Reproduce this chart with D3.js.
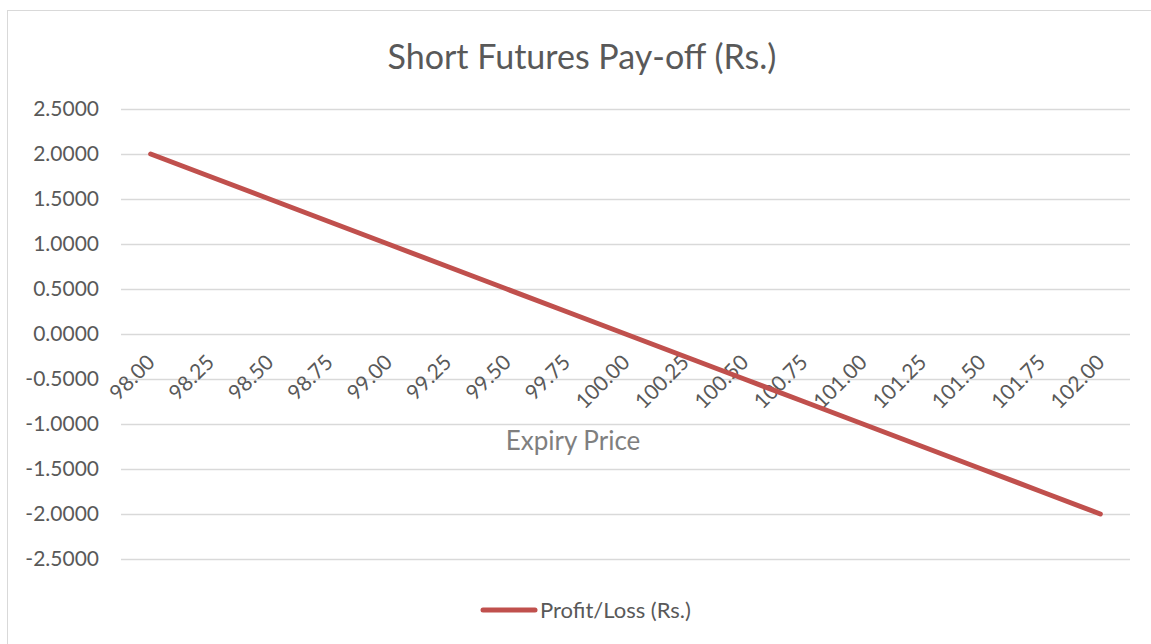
<!DOCTYPE html>
<html>
<head>
<meta charset="utf-8">
<script src="https://cdn.jsdelivr.net/npm/d3@7"></script>
<style>
  body { margin: 0; background: #fff; }
  text { font-family: Lato, "Open Sans", sans-serif; fill: #595959; }
</style>
</head>
<body>
<div id="chart"></div>
<script>
// chart data
const expiryPrices = ["98.00", "98.25", "98.50", "98.75", "99.00", "99.25", "99.50", "99.75",
  "100.00", "100.25", "100.50", "100.75", "101.00", "101.25", "101.50", "101.75", "102.00"];
const profitLoss = [2.0, 1.75, 1.5, 1.25, 1.0, 0.75, 0.5, 0.25, 0.0,
  -0.25, -0.5, -0.75, -1.0, -1.25, -1.5, -1.75, -2.0];
const yTicks = [-2.5, -2.0, -1.5, -1.0, -0.5, 0.0, 0.5, 1.0, 1.5, 2.0, 2.5];
const seriesName = "Profit/Loss (Rs.)";

const width = 1151, height = 644;
const plot = { left: 121, right: 1130, top: 109, bottom: 559 };

const svg = d3.select("#chart").append("svg")
    .attr("width", width)
    .attr("height", height);

// chart area border
svg.append("rect")
    .attr("x", 7.5).attr("y", 10.5)
    .attr("width", 1160).attr("height", 660)
    .attr("fill", "none")
    .attr("stroke", "#d9d9d9");

const x = d3.scaleBand()
    .domain(expiryPrices)
    .range([plot.left, plot.right]);

const y = d3.scaleLinear()
    .domain([-2.5, 2.5])
    .range([plot.bottom, plot.top]);

// gridlines
svg.append("g")
    .selectAll("line")
    .data(yTicks)
    .join("line")
    .attr("x1", plot.left).attr("x2", plot.right)
    .attr("y1", d => Math.round(y(d)) + 0.5)
    .attr("y2", d => Math.round(y(d)) + 0.5)
    .attr("stroke", "#d9d9d9")
    .attr("stroke-width", 1.5);

// y axis labels (plain hyphen for negatives, like Excel)
const fmt = d3.format(".4f");
const yAxis = svg.append("g")
    .attr("transform", `translate(${plot.left - 22},0)`)
    .call(d3.axisLeft(y).tickValues(yTicks)
        .tickFormat(d => fmt(d).replace("\u2212", "-"))
        .tickSize(0).tickPadding(0));
yAxis.select(".domain").remove();
yAxis.selectAll("text")
    .attr("font-size", 21)
    .attr("font-family", "Lato, sans-serif")
    .attr("fill", "#595959");

// category labels sit on the zero line, rotated
svg.append("g")
    .selectAll("text")
    .data(expiryPrices)
    .join("text")
    .attr("transform", d => `translate(${x(d) + x.bandwidth() / 2 - 5},${y(0) + 19}) rotate(-45)`)
    .attr("text-anchor", "end")
    .attr("dy", "0.71em")
    .attr("font-size", 21)
    .text(d => d);

// series line
const line = d3.line()
    .x((d, i) => x(expiryPrices[i]) + x.bandwidth() / 2)
    .y(d => y(d));

svg.append("path")
    .datum(profitLoss)
    .attr("d", line)
    .attr("fill", "none")
    .attr("stroke", "#c0504d")
    .attr("stroke-width", 5)
    .attr("stroke-linecap", "round")
    .attr("stroke-linejoin", "round");

// title
svg.append("text")
    .attr("x", 582).attr("y", 69)
    .attr("text-anchor", "middle")
    .attr("font-size", 34)
    .text("Short Futures Pay-off (Rs.)");

// axis title
svg.append("text")
    .attr("x", 573).attr("y", 450)
    .attr("text-anchor", "middle")
    .attr("font-size", 26)
    .style("fill", "#7f7f7f")
    .text("Expiry Price");

// legend
const legend = svg.append("g").attr("transform", "translate(483,610)");
legend.append("line")
    .attr("x1", 0).attr("x2", 52)
    .attr("stroke", "#c0504d")
    .attr("stroke-width", 5)
    .attr("stroke-linecap", "round");
legend.append("text")
    .attr("x", 57).attr("y", 8)
    .attr("font-size", 22)
    .text(seriesName);
</script>
</body>
</html>
